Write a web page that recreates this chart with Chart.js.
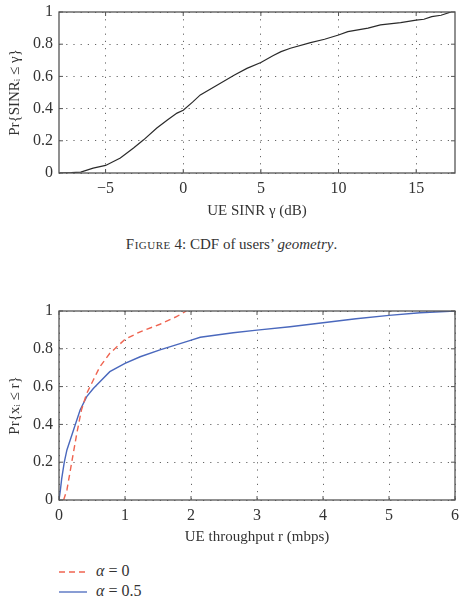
<!DOCTYPE html>
<html>
<head>
<meta charset="utf-8">
<script src="https://cdn.jsdelivr.net/npm/chart.js@4/dist/chart.umd.min.js"></script>
<style>
  body { margin: 0; background: #fff; width: 463px; height: 601px; position: relative; overflow: hidden;
         font-family: "Liberation Serif", "DejaVu Serif", serif; color: #333; }
  #top { position: absolute; left: 0; top: 0; }
  #bottom { position: absolute; left: 0; top: 300px; }
  .caption { position: absolute; left: 0; width: 463px; top: 236px; text-align: center; font-size: 15px; }
  .caption .sc { font-variant: small-caps; letter-spacing: 0.5px; }
  .legend { position: absolute; left: 59px; top: 561px; font-size: 16px; }
  .legend div { height: 20px; line-height: 20px; white-space: nowrap; }
  .legend svg { vertical-align: middle; margin-right: 9px; }
</style>
</head>
<body>
<canvas id="top" width="463" height="220"></canvas>
<div class="caption"><span class="sc">Figure</span> 4: CDF of users’ <i>geometry</i>.</div>
<canvas id="bottom" width="463" height="246"></canvas>
<div class="legend">
  <div><svg width="28" height="4"><line x1="0" y1="2" x2="28" y2="2" stroke="#ef6450" stroke-width="1.3" stroke-dasharray="6,4"/></svg><i>α</i> = 0</div>
  <div><svg width="28" height="4"><line x1="0" y1="2" x2="28" y2="2" stroke="#4a68bd" stroke-width="1.3"/></svg><i>α</i> = 0.5</div>
</div>
<script>
// Figure 4: SINR CDF
var sinrX = [-8, -7.2, -6.6, -5.8, -5, -4.05, -3.2, -2.55, -1.7, -1.0, -0.4, 0, 0.6, 1.1, 2.2, 3.3, 4.1, 5, 5.8, 6.3, 6.9, 8.2, 9.1, 10, 10.6, 11.9, 12.7, 14.0, 15, 15.5, 16.0, 16.6, 17.25];
var sinrCdf = [0, 0.002, 0.006, 0.03, 0.047, 0.093, 0.155, 0.206, 0.279, 0.331, 0.372, 0.39, 0.44, 0.485, 0.547, 0.609, 0.65, 0.686, 0.73, 0.754, 0.775, 0.81, 0.831, 0.857, 0.878, 0.9, 0.92, 0.934, 0.95, 0.955, 0.971, 0.98, 1];

// throughput CDF, alpha = 0.5
var tputHalfX = [0, 0.02, 0.04, 0.08, 0.12, 0.22, 0.32, 0.42, 0.52, 0.62, 0.77, 1.0, 1.23, 1.53, 1.98, 2.14, 2.64, 3.0, 3.5, 4.0, 4.5, 5.0, 5.47, 6];
var tputHalfCdf = [0, 0.05, 0.11, 0.2, 0.265, 0.37, 0.476, 0.547, 0.59, 0.626, 0.679, 0.723, 0.758, 0.794, 0.843, 0.861, 0.885, 0.899, 0.917, 0.938, 0.959, 0.977, 0.991, 1];

// throughput CDF, alpha = 0
var tputZeroX = [0.07, 0.12, 0.19, 0.27, 0.34, 0.42, 0.52, 0.62, 0.77, 1.0, 1.23, 1.53, 1.78, 1.93];
var tputZeroCdf = [0, 0.053, 0.194, 0.353, 0.476, 0.564, 0.635, 0.705, 0.776, 0.85, 0.89, 0.93, 0.97, 1];

var yTicks = [0, 0.2, 0.4, 0.6, 0.8, 1];

function toPoints(xs, ys) {
    var pts = [];
    for (var i = 0; i < xs.length; i++) pts.push({ x: xs[i], y: ys[i] });
    return pts;
}

Chart.defaults.font.family = '"Liberation Serif", "DejaVu Serif", serif';
Chart.defaults.font.size = 16;
Chart.defaults.color = '#333';

// box round the plot + matlab style inward ticks
var framePlugin = {
    id: 'frame',
    afterDatasetsDraw: function (chart) {
        var a = chart.chartArea, ctx = chart.ctx;
        var sx = chart.scales.x, sy = chart.scales.y;
        ctx.save();
        ctx.strokeStyle = '#555';
        ctx.lineWidth = 1.3;
        ctx.strokeRect(a.left, a.top, a.right - a.left, a.bottom - a.top);
        ctx.lineWidth = 1;
        ctx.beginPath();
        sx.ticks.forEach(function (t) {
            var px = sx.getPixelForValue(t.value);
            ctx.moveTo(px, a.bottom); ctx.lineTo(px, a.bottom - 4);
            ctx.moveTo(px, a.top); ctx.lineTo(px, a.top + 4);
        });
        sy.ticks.forEach(function (t) {
            var py = sy.getPixelForValue(t.value);
            ctx.moveTo(a.left, py); ctx.lineTo(a.left + 4, py);
            ctx.moveTo(a.right, py); ctx.lineTo(a.right - 4, py);
        });
        ctx.stroke();
        ctx.restore();
    }
};

function gridOpts() {
    return { color: '#666', lineWidth: 1, drawTicks: false };
}

function makeOptions(xmin, xmax, xstep, xTitle, yTitle, xHeight, padTop) {
    return {
        responsive: false,
        animation: false,
        layout: { padding: { top: padTop, right: 8, left: 0, bottom: 0 } },
        plugins: { legend: { display: false }, tooltip: { enabled: false } },
        scales: {
            x: {
                type: 'linear',
                min: xmin,
                max: xmax,
                grid: gridOpts(),
                border: { display: false, dash: [1.2, 6] },
                ticks: {
                    stepSize: xstep,
                    includeBounds: false,
                    padding: 6,
                    maxRotation: 0,
                    callback: function (v) { return String(v).replace('-', '\u2212'); }
                },
                title: { display: true, text: xTitle, font: { size: 15 }, padding: { top: 0, bottom: 0 } },
                afterFit: function (s) { s.height = xHeight; s.paddingLeft = 0; s.paddingRight = 0; }
            },
            y: {
                type: 'linear',
                min: 0,
                max: 1,
                grid: gridOpts(),
                border: { display: false, dash: [1.2, 6] },
                afterBuildTicks: function (s) { s.ticks = yTicks.map(function (v) { return { value: v }; }); },
                ticks: { padding: 6, callback: function (v) { return String(v); } },
                title: { display: true, text: yTitle, font: { size: 15 }, padding: { top: 6, bottom: 4 } },
                afterFit: function (s) { s.width = 59; s.paddingTop = 0; s.paddingBottom = 0; }
            }
        }
    };
}

new Chart(document.getElementById('top').getContext('2d'), {
    type: 'scatter',
    data: {
        datasets: [{
            data: toPoints(sinrX, sinrCdf),
            showLine: true,
            borderColor: '#2a2a2a',
            borderWidth: 1.2,
            pointRadius: 0,
            tension: 0
        }]
    },
    options: makeOptions(-8, 17.5, 5, 'UE SINR \u03B3 (dB)', 'Pr{SINR\u1D62 \u2264 \u03B3}', 47, 12),
    plugins: [framePlugin]
});

new Chart(document.getElementById('bottom').getContext('2d'), {
    type: 'scatter',
    data: {
        datasets: [{
            label: '\u03B1 = 0',
            data: toPoints(tputZeroX, tputZeroCdf),
            showLine: true,
            borderColor: '#ef6450',
            borderWidth: 1.4,
            borderDash: [6, 4],
            pointRadius: 0,
            tension: 0
        }, {
            label: '\u03B1 = 0.5',
            data: toPoints(tputHalfX, tputHalfCdf),
            showLine: true,
            borderColor: '#4a68bd',
            borderWidth: 1.4,
            pointRadius: 0,
            tension: 0
        }]
    },
    options: makeOptions(0, 6, 1, 'UE throughput r (mbps)', 'Pr{x\u1D62 \u2264 r}', 46, 11),
    plugins: [framePlugin]
});
</script>
</body>
</html>
